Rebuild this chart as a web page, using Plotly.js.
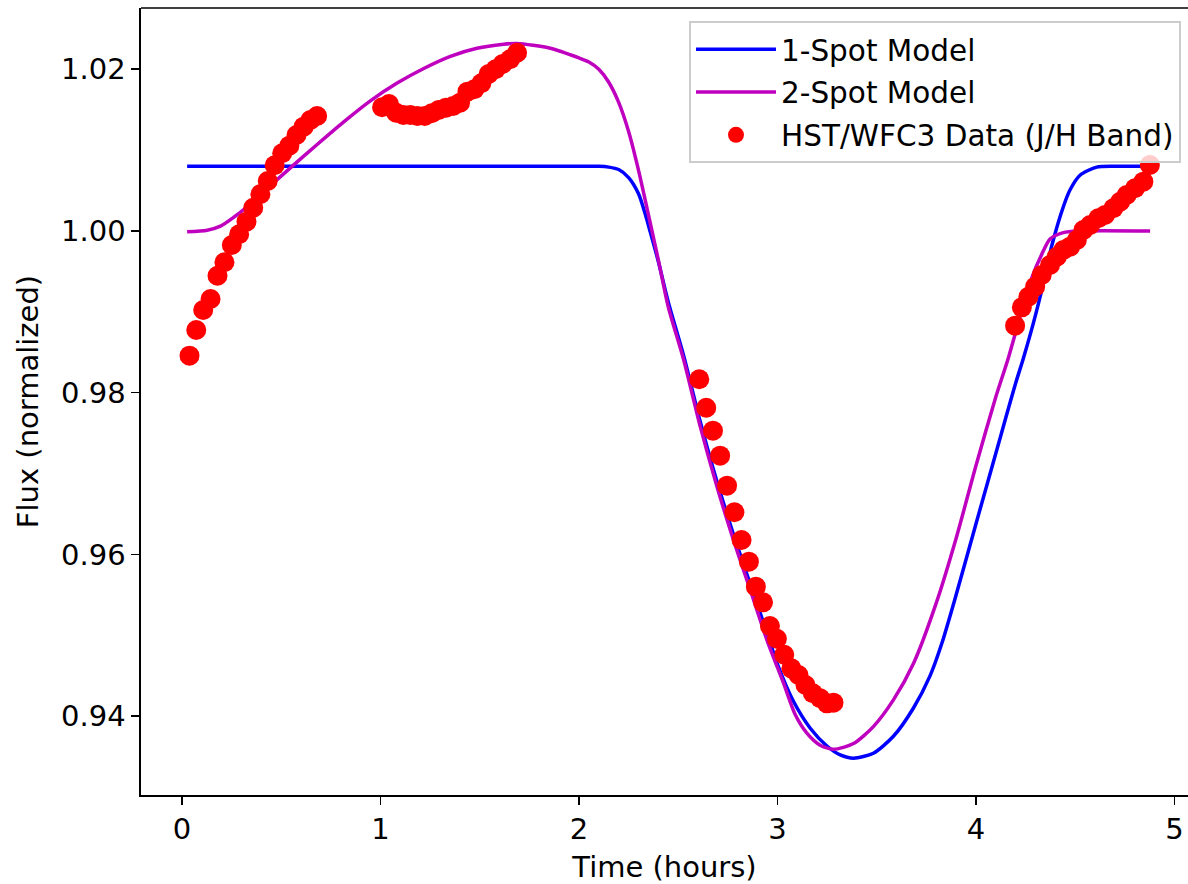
<!DOCTYPE html>
<html>
<head>
<meta charset="utf-8">
<script src="https://cdn.plot.ly/plotly-3.0.1.min.js"></script>
<style>
  html, body { margin: 0; padding: 0; background: #ffffff; }
  #chart { width: 1188px; height: 884px; }
</style>
</head>
<body>
<div id="chart"></div>
<script>
// ---- Data ----
const seriesNames = ['1-Spot Model', '2-Spot Model', 'HST/WFC3 Data (J/H Band)'];

const oneSpotTime = [0.026, 0.5, 1.0, 1.5, 2.0, 2.10, 2.15, 2.20, 2.25, 2.30, 2.33, 2.36, 2.40, 2.45, 2.527, 2.611, 2.695, 2.778, 2.863, 2.947, 3.00, 3.081, 3.165, 3.249, 3.316, 3.383, 3.483, 3.584, 3.685, 3.769, 3.828, 3.90, 4.00, 4.10, 4.15, 4.20, 4.238, 4.289, 4.339, 4.382, 4.44, 4.474, 4.524, 4.608, 4.70, 4.877];
const oneSpotFlux = [1.008, 1.008, 1.008, 1.008, 1.008, 1.0080, 1.0079, 1.0076, 1.0066, 1.0046, 1.0024, 0.9998, 0.9962, 0.9912, 0.9846, 0.9764, 0.9690, 0.9625, 0.9563, 0.9503, 0.9464, 0.9418, 0.9385, 0.9363, 0.9352, 0.9348, 0.9354, 0.9375, 0.9410, 0.9450, 0.9490, 0.9550, 0.9638, 0.9725, 0.9769, 0.9812, 0.9842, 0.9886, 0.9935, 0.9982, 1.0030, 1.0051, 1.0069, 1.0079, 1.0080, 1.0080];

const twoSpotTime = [0.026, 0.127, 0.194, 0.261, 0.328, 0.412, 0.546, 0.681, 0.815, 0.949, 1.084, 1.218, 1.352, 1.486, 1.620, 1.688, 1.856, 2.00, 2.05, 2.10, 2.15, 2.20, 2.25, 2.30, 2.35, 2.40, 2.45, 2.527, 2.611, 2.695, 2.778, 2.863, 2.947, 3.030, 3.089, 3.148, 3.215, 3.282, 3.383, 3.483, 3.584, 3.685, 3.80, 3.90, 4.00, 4.10, 4.163, 4.222, 4.281, 4.331, 4.373, 4.44, 4.52, 4.877];
const twoSpotFlux = [0.9999, 1.0001, 1.0006, 1.0017, 1.0030, 1.0049, 1.0078, 1.0107, 1.0135, 1.0161, 1.0183, 1.0201, 1.0216, 1.0226, 1.0231, 1.0232, 1.0226, 1.0214, 1.0209, 1.0200, 1.0184, 1.0159, 1.0123, 1.0075, 1.0020, 0.9964, 0.9906, 0.9841, 0.9758, 0.9684, 0.9618, 0.9556, 0.9494, 0.9441, 0.9402, 0.9379, 0.9364, 0.9359, 0.9366, 0.9387, 0.9420, 0.9465, 0.9540, 0.9620, 0.9710, 0.9795, 0.9843, 0.9894, 0.9942, 0.9971, 0.9990, 0.9998, 1.0000, 1.0000];

const dataTime = [
  0.038, 0.072, 0.107, 0.144, 0.179, 0.214, 0.251, 0.288, 0.325, 0.359, 0.395, 0.432, 0.467, 0.505, 0.541, 0.577, 0.613, 0.647, 0.681,
  1.008, 1.043, 1.079, 1.115, 1.150, 1.186, 1.223, 1.258, 1.293, 1.330, 1.366, 1.401, 1.438, 1.473, 1.508, 1.545, 1.580, 1.615, 1.653, 1.688,
  2.606, 2.641, 2.675, 2.711, 2.746, 2.783, 2.819, 2.856, 2.891, 2.927, 2.962, 2.997, 3.034, 3.070, 3.106, 3.141, 3.178, 3.215, 3.249, 3.282,
  4.197, 4.231, 4.264, 4.298, 4.331, 4.373, 4.407, 4.440, 4.474, 4.508, 4.541, 4.575, 4.616, 4.650, 4.692, 4.726, 4.759, 4.801, 4.843, 4.876
];
const dataFlux = [
  0.98458, 0.98776, 0.99023, 0.99159, 0.99447, 0.99613, 0.99827, 0.99959, 1.00115, 1.00288, 1.00454, 1.00618, 1.00813, 1.00961, 1.01055, 1.01187, 1.01290, 1.01373, 1.01422,
  1.01530, 1.01571, 1.01463, 1.01435, 1.01435, 1.01422, 1.01422, 1.01456, 1.01497, 1.01525, 1.01546, 1.01587, 1.01723, 1.01753, 1.01827, 1.01942, 1.02000, 1.02066, 1.02124, 1.02205,
  0.98166, 0.97814, 0.97530, 0.97221, 0.96850, 0.96521, 0.96178, 0.95910, 0.95601, 0.95407, 0.95114, 0.94957, 0.94759, 0.94591, 0.94508, 0.94385, 0.94282, 0.94220, 0.94158, 0.94166,
  0.98829, 0.99056, 0.99187, 0.99311, 0.99456, 0.99579, 0.99682, 0.99765, 0.99806, 0.99889, 1.00012, 1.00074, 1.00157, 1.00198, 1.00281, 1.00362, 1.00445, 1.00528, 1.00610, 1.00816
];

const xTickVals = [0, 1, 2, 3, 4, 5];
const xTickText = ['0', '1', '2', '3', '4', '5'];
const yTickVals = [0.94, 0.96, 0.98, 1.00, 1.02];
const yTickText = ['0.94', '0.96', '0.98', '1.00', '1.02'];

const xTitle = 'Time (hours)';
const yTitle = 'Flux (normalized)';

// ---- Traces ----
const traces = [
  {
    x: oneSpotTime, y: oneSpotFlux, name: seriesNames[0], type: 'scatter', mode: 'lines',
    line: { color: '#0000ff', width: 3.5, shape: 'spline', smoothing: 0.7 },
    legendgroup: 'a'
  },
  {
    x: twoSpotTime, y: twoSpotFlux, name: seriesNames[1], type: 'scatter', mode: 'lines',
    line: { color: '#bf00bf', width: 3.5, shape: 'spline', smoothing: 0.7 },
    legendgroup: 'b'
  },
  {
    x: dataTime, y: dataFlux, name: seriesNames[2], type: 'scatter', mode: 'markers',
    marker: { color: '#ff0000', size: 20, line: { width: 0 } },
    legendgroup: 'c'
  }
];

const axisFont = { family: 'DejaVu Sans', size: 29, color: '#000000' };
const legendFont = { family: 'DejaVu Sans', size: 29.5, color: '#000000' };

const layout = {
  width: 1188,
  height: 884,
  margin: { l: 140.5, r: 0, t: 8, b: 89, pad: 0 },
  paper_bgcolor: '#ffffff',
  plot_bgcolor: '#ffffff',
  font: axisFont,
  showlegend: true,
  xaxis: {
    range: [-0.2064, 5.068],
    tickmode: 'array', tickvals: xTickVals, ticktext: xTickText,
    ticks: 'outside', ticklen: 8, tickwidth: 1.6, tickcolor: '#000000',
    showline: true, linecolor: '#000000', linewidth: 1.6,
    showgrid: false, zeroline: false,
    tickfont: axisFont,
    title: { text: xTitle, font: axisFont, standoff: 12 }
  },
  yaxis: {
    range: [0.93024, 1.02758],
    tickmode: 'array', tickvals: yTickVals, ticktext: yTickText,
    ticks: 'outside', ticklen: 8, tickwidth: 1.6, tickcolor: '#000000',
    showline: true, linecolor: '#000000', linewidth: 1.6,
    showgrid: false, zeroline: false,
    tickfont: axisFont,
    title: { text: yTitle, font: axisFont, standoff: 14 }
  },
  legend: {
    x: 0.9933, y: 0.9829, xanchor: 'right', yanchor: 'top',
    bgcolor: 'rgba(255,255,255,0.8)', bordercolor: '#cccccc', borderwidth: 2,
    font: legendFont,
    traceorder: 'grouped', tracegroupgap: 1.5,
    itemwidth: 80
  },
  shapes: [
    { type: 'line', xref: 'paper', yref: 'paper', x0: 0, x1: 1, y0: 1, y1: 1,
      line: { color: '#000000', width: 1.6 } }
  ]
};

Plotly.newPlot('chart', traces, layout, { displayModeBar: false, staticPlot: true });
</script>
</body>
</html>
